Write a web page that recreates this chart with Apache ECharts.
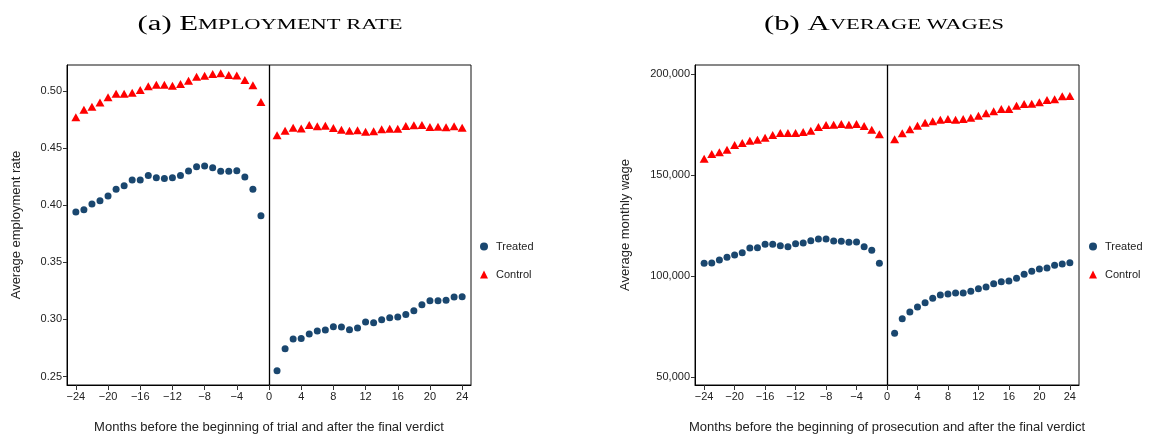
<!DOCTYPE html>
<html>
<head>
<meta charset="utf-8">
<script src="https://cdn.jsdelivr.net/npm/echarts@6/dist/echarts.min.js"></script>
<style>
  html, body { margin: 0; padding: 0; background: #fff; }
  #chart { width: 1152px; height: 437px; }
</style>
</head>
<body>
<div id="chart"></div>
<script>
// Months relative to the event (before trial / prosecution, after verdict)
const monthsBefore = [-24,-23,-22,-21,-20,-19,-18,-17,-16,-15,-14,-13,-12,-11,-10,-9,-8,-7,-6,-5,-4,-3,-2,-1];
const monthsAfter = [1,2,3,4,5,6,7,8,9,10,11,12,13,14,15,16,17,18,19,20,21,22,23,24];
const monthTicks = [-24,-20,-16,-12,-8,-4,0,4,8,12,16,20,24];

// (a) Employment rate
const empTreatedBefore = [0.394,0.396,0.401,0.404,0.408,0.414,0.417,0.422,0.422,0.426,0.424,0.4235,0.424,0.426,0.430,0.4337,0.4343,0.4328,0.4297,0.4297,0.4302,0.4247,0.4139,0.3908];
const empTreatedAfter = [0.2551,0.2744,0.2828,0.2834,0.2872,0.2898,0.2907,0.2936,0.2933,0.291,0.2925,0.2977,0.2971,0.2998,0.3015,0.3021,0.3044,0.3076,0.3129,0.3164,0.3164,0.3167,0.3196,0.3199];
const empControlBefore = [0.477,0.4836,0.4863,0.490,0.4945,0.4977,0.4977,0.4986,0.5009,0.5041,0.5056,0.5056,0.5047,0.5061,0.509,0.5125,0.5134,0.5149,0.5155,0.514,0.5137,0.5096,0.505,0.4904];
const empControlAfter = [0.4612,0.4653,0.4679,0.4673,0.4702,0.4691,0.4696,0.4676,0.4661,0.4653,0.4656,0.4644,0.4647,0.4665,0.467,0.467,0.4694,0.470,0.4702,0.4685,0.4688,0.4682,0.4691,0.4679];
const empTicks = [0.25,0.30,0.35,0.40,0.45,0.50];

// (b) Average monthly wage
const wageTreatedBefore = [106270,106440,107920,109240,110400,111540,113860,114030,115680,115680,115020,114520,116010,116340,117490,118320,118320,117330,117160,116660,116830,114520,112700,106270];
const wageTreatedAfter = [71630,78860,82180,84650,86800,88960,90590,91090,91580,91580,92410,93730,94550,96190,97180,97520,98860,100840,102330,103470,103960,105300,105940,106580];
const wageControlBefore = [158090,160400,161250,162540,164850,165840,166980,167480,168470,169800,170790,170790,170790,171290,171950,173760,174750,174900,175250,174900,175250,174260,172440,170130];
const wageControlAfter = [167670,170640,172620,174410,175900,176580,177380,177720,177380,177720,178370,179360,180530,181520,182670,182670,184310,185150,185300,185970,187130,187460,188960,189110];
const wageTicks = [50000,100000,150000,200000];

const NAVY = '#1a476f';
const RED = '#ff0000';
const SANS = '"Liberation Sans", Arial, sans-serif';
const SERIF = '"Liberation Serif", "DejaVu Serif", serif';

function pairs(xs, ys) { return xs.map((x, i) => [x, ys[i]]); }
const minusFmt = v => (v < 0 ? '\u2212' + (-v) : String(v));
const commaFmt = v => String(v).replace(/\B(?=(\d{3})+(?!\d))/g, ',');

function xAxisFor(gridIndex, name, range) {
  return {
    type: 'value', gridIndex, min: -range, max: range,
    name, nameLocation: 'middle', nameGap: 36,
    nameTextStyle: { fontFamily: SANS, fontSize: 13, color: '#222' },
    axisLine: { show: true, onZero: false, lineStyle: { color: '#000', width: 1 } },
    axisTick: { show: true, length: 5, customValues: monthTicks, lineStyle: { color: '#333' } },
    axisLabel: { customValues: monthTicks, formatter: minusFmt, fontFamily: SANS, fontSize: 11, color: '#222', margin: 6 },
    splitLine: { show: false }
  };
}

function yAxisFor(gridIndex, name, min, max, ticks, fmt, gap) {
  return {
    type: 'value', gridIndex, min, max,
    name, nameLocation: 'middle', nameGap: gap,
    nameTextStyle: { fontFamily: SANS, fontSize: 13, color: '#222' },
    axisLine: { show: true, onZero: false, lineStyle: { color: '#000', width: 1 } },
    axisTick: { show: true, length: 4, customValues: ticks, lineStyle: { color: '#333' } },
    axisLabel: { customValues: ticks, formatter: fmt, fontFamily: SANS, fontSize: 11, color: '#222', margin: 5 },
    splitLine: { show: false }
  };
}

function scatter(name, data, gi, symbol, color, size) {
  return {
    type: 'scatter', name, data, xAxisIndex: gi, yAxisIndex: gi,
    symbol, symbolSize: size, itemStyle: { color, opacity: 1 }, z: 3
  };
}

const zeroLine = {
  silent: true, symbol: 'none', label: { show: false },
  lineStyle: { color: '#000', width: 1.3, type: 'solid' },
  data: [{ xAxis: 0 }]
};

// Panel headings in small caps: a full-size initial followed by reduced capitals,
// widened horizontally to the proportions of a book small-caps face.
function headingFor(letter, first, rest, centerX) {
  const base = { fontFamily: SERIF, fontWeight: 'normal', color: '#222' };
  return {
    type: 'text', x: centerX, y: 25, scaleX: 1.5, scaleY: 1,
    silent: true,
    style: {
      text: '{n|(' + letter + ') }{c|' + first + '}{s|' + rest + '}',
      align: 'center', verticalAlign: 'middle',
      rich: {
        n: Object.assign({ fontSize: 20.5 }, base),
        c: Object.assign({ fontSize: 20.5 }, base),
        s: Object.assign({ fontSize: 15 }, base)
      }
    }
  };
}

function legendFor(left) {
  return {
    left, top: 236, orient: 'vertical', itemGap: 17,
    itemWidth: 8, itemHeight: 8,
    textStyle: { fontFamily: SANS, fontSize: 11, color: '#222', padding: [0, 0, 0, 3] },
    data: [
      { name: 'Treated', icon: 'circle', itemStyle: { color: NAVY } },
      { name: 'Control', icon: 'triangle', itemStyle: { color: RED } }
    ]
  };
}

const chart = echarts.init(document.getElementById('chart'), null, { renderer: 'canvas' });
chart.setOption({
  animation: false,
  backgroundColor: '#fff',
  graphic: [
    headingFor('a', 'E', 'MPLOYMENT RATE', 270),
    headingFor('b', 'A', 'VERAGE WAGES', 884)
  ],
  legend: [legendFor(475), legendFor(1084)],
  grid: [
    { left: 67, top: 65, width: 404, height: 320, outerBoundsMode: 'none', show: true, borderColor: '#111', borderWidth: 1, backgroundColor: 'transparent' },
    { left: 695, top: 65, width: 384, height: 320, outerBoundsMode: 'none', show: true, borderColor: '#111', borderWidth: 1, backgroundColor: 'transparent' }
  ],
  xAxis: [
    xAxisFor(0, 'Months before the beginning of trial and after the final verdict', 25.1),
    xAxisFor(1, 'Months before the beginning of prosecution and after the final verdict', 25.2)
  ],
  yAxis: [
    yAxisFor(0, 'Average employment rate', 0.2426, 0.5228, empTicks, v => v.toFixed(2), 44),
    yAxisFor(1, 'Average monthly wage', 46040, 204460, wageTicks, commaFmt, 63)
  ],
  series: [
    Object.assign(scatter('Treated', pairs(monthsBefore, empTreatedBefore).concat(pairs(monthsAfter, empTreatedAfter)), 0, 'circle', NAVY, 7), { markLine: zeroLine }),
    scatter('Control', pairs(monthsBefore, empControlBefore).concat(pairs(monthsAfter, empControlAfter)), 0, 'triangle', RED, [9, 8]),
    Object.assign(scatter('Treated', pairs(monthsBefore, wageTreatedBefore).concat(pairs(monthsAfter, wageTreatedAfter)), 1, 'circle', NAVY, 7), { markLine: zeroLine }),
    scatter('Control', pairs(monthsBefore, wageControlBefore).concat(pairs(monthsAfter, wageControlAfter)), 1, 'triangle', RED, [9, 8])
  ]
});
</script>
</body>
</html>
